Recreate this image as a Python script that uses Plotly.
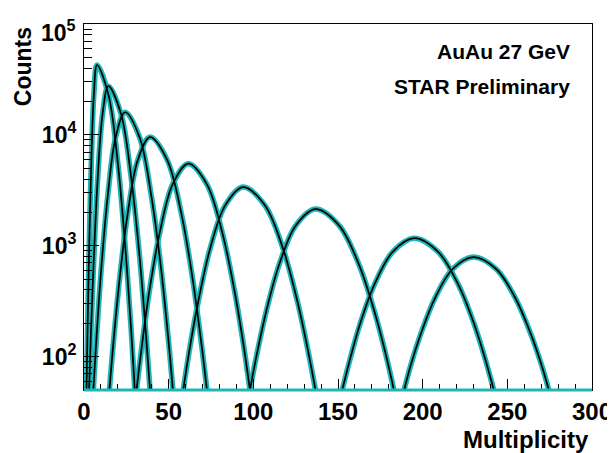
import plotly.graph_objects as go

# Multiplicity sample points and counts for each of the nine distributions
mult_1 = [1.5, 2.1, 3.05, 4.3, 5.84, 7.7, 14.4, 20.0, 24.4, 27.8, 30.0]
counts_1 = [50, 180, 957, 5530, 23200, 42700, 23200, 5530, 957, 180, 50]

mult_2 = [3.0, 4.1, 5.85, 8.1, 11.0, 14.4, 21.8, 27.9, 32.85, 36.5, 39.0]
counts_2 = [50, 166, 791, 4074, 15560, 27500, 15560, 4074, 791, 166, 50]

mult_3 = [5.5, 7.4, 10.2, 14.0, 18.7, 24.3, 32.8, 39.8, 45.5, 49.7, 52.5]
counts_3 = [50, 150, 624, 2794, 9517, 16000, 9517, 2794, 624, 150, 50]

mult_4 = [15.0, 17.4, 21.0, 25.8, 31.8, 39.0, 49.1, 57.5, 64.2, 69.2, 72.6]
counts_4 = [50, 136, 498, 1950, 5953, 9550, 5953, 1950, 498, 136, 50]

mult_5 = [31.0, 34.1, 38.6, 44.8, 52.4, 61.6, 72.5, 81.6, 88.9, 94.4, 98.0]
counts_5 = [50, 122, 391, 1326, 3600, 5500, 3600, 1326, 391, 122, 50]

mult_6 = [58.6, 62.1, 67.5, 74.5, 83.4, 94.0, 106.8, 117.5, 126.0, 132.4, 136.7]
counts_6 = [50, 111, 316, 945, 2314, 3380, 2314, 945, 316, 111, 50]

mult_7 = [98.0, 101.9, 107.7, 115.4, 125.1, 136.7, 150.6, 162.2, 171.4, 178.4, 183.0]
counts_7 = [50, 102, 259, 687, 1525, 2140, 1525, 687, 259, 102, 50]

mult_8 = [152.5, 156.8, 163.1, 171.6, 182.3, 195.0, 209.1, 220.9, 230.3, 237.3, 242.0]
counts_8 = [50, 91, 199, 451, 881, 1170, 881, 451, 199, 91, 50]

mult_9 = [189.0, 193.1, 199.3, 207.5, 217.7, 230.0, 243.4, 254.5, 263.4, 270.1, 274.5]
counts_9 = [50, 85, 167, 343, 617, 790, 617, 343, 167, 85, 50]

x_tick_vals = [0, 50, 100, 150, 200, 250, 300]
x_tick_text = ["0", "50", "100", "150", "200", "250", "300"]
y_tick_vals = [100, 1000, 10000, 100000]
y_tick_text = ["10<sup>2</sup>", "10<sup>3</sup>", "10<sup>4</sup>", ""]
y_top_label = "10<sup>5</sup>"

series = [
    (mult_1, counts_1), (mult_2, counts_2), (mult_3, counts_3),
    (mult_4, counts_4), (mult_5, counts_5), (mult_6, counts_6),
    (mult_7, counts_7), (mult_8, counts_8), (mult_9, counts_9),
]

TEAL = "#1fb5b5"
FONT = "Liberation Sans, Arial, sans-serif"

fig = go.Figure()
for xs, ys in series:
    fig.add_trace(go.Scatter(x=xs, y=ys, mode="lines",
                             line=dict(color=TEAL, width=5.5, shape="spline"),
                             hoverinfo="skip", showlegend=False))
for xs, ys in series:
    fig.add_trace(go.Scatter(x=xs, y=ys, mode="lines",
                             line=dict(color="black", width=1.7, shape="spline"),
                             hoverinfo="skip", showlegend=False))

# The page body adds an 8px offset, so the figure is 8px smaller on each axis.
fig.update_layout(
    width=607, height=445,
    margin=dict(l=76, r=23, t=16, b=63),
    paper_bgcolor="white", plot_bgcolor="white",
    font=dict(family=FONT, color="black"),
    showlegend=False,
    xaxis=dict(
        range=[0, 300], tickvals=x_tick_vals, ticktext=x_tick_text,
        ticks="inside", ticklen=11, tickwidth=1, tickcolor="black",
        minor=dict(ticks="inside", ticklen=6, dtick=10, tickcolor="black", tickwidth=1),
        showgrid=False, zeroline=False, automargin=False, ticklabeloverflow="allow",
        showline=True, linecolor="black", linewidth=1, mirror=True,
        tickfont=dict(family=FONT, size=24, weight="bold", color="black"),
    ),
    yaxis=dict(
        type="log", range=[1.69897, 5], tickvals=y_tick_vals, ticktext=y_tick_text,
        ticks="inside", ticklen=15, tickwidth=1, tickcolor="black",
        minor=dict(ticks="inside", ticklen=8, dtick="D1", tickcolor="black", tickwidth=1),
        showgrid=False, zeroline=False, automargin=False, ticklabeloverflow="allow",
        ticklabelstandoff=2,
        showline=True, linecolor="black", linewidth=1, mirror=True,
        tickfont=dict(family=FONT, size=23, weight="bold", color="black"),
    ),
    shapes=[dict(type="line", xref="paper", yref="paper", x0=0, x1=1, y0=0, y1=0,
                 line=dict(color=TEAL, width=3), layer="above")],
    annotations=[
        dict(text=y_top_label, xref="paper", yref="paper", x=-0.0118, y=0.981,
             xanchor="right", yanchor="middle", showarrow=False,
             font=dict(family=FONT, size=23, weight="bold", color="black")),
        dict(text="<b>AuAu 27 GeV</b>", xref="paper", yref="paper", x=0.961, y=0.9235,
             xanchor="right", yanchor="middle", showarrow=False,
             font=dict(family=FONT, size=21, color="black")),
        dict(text="<b>STAR Preliminary</b>", xref="paper", yref="paper", x=0.961, y=0.8306,
             xanchor="right", yanchor="middle", showarrow=False,
             font=dict(family=FONT, size=21, color="black")),
        dict(text="<b>Counts</b>", xref="paper", yref="paper", x=-0.120, y=0.882,
             xanchor="center", yanchor="middle", showarrow=False, textangle=-90,
             font=dict(family=FONT, size=23, color="black")),
        dict(text="<b>Multiplicity</b>", xref="paper", yref="paper", x=0.998, y=-0.1366,
             xanchor="right", yanchor="middle", showarrow=False,
             font=dict(family=FONT, size=24, color="black")),
    ],
)

fig.write_html("out.html")
